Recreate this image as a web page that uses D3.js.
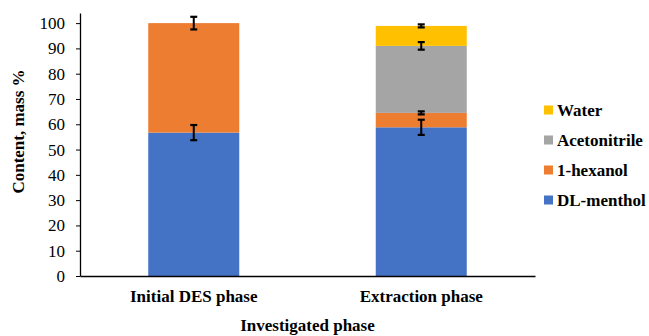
<!DOCTYPE html>
<html>
<head>
<meta charset="utf-8">
<script src="https://cdn.jsdelivr.net/npm/d3@7"></script>
<style>
  body { margin: 0; background: #fff; }
</style>
</head>
<body>
<svg id="chart"></svg>
<script>
const categories = ["Initial DES phase", "Extraction phase"];
const components = ["DL-menthol", "1-hexanol", "Acetonitrile", "Water"];
const colors = ["#4472C4", "#ED7D31", "#A5A5A5", "#FFC000"];
// mass % per component, per phase
const menthol = [56.7, 58.8];
const hexanol = [43.3, 5.7];
const acetonitrile = [0, 26.5];
const water = [0, 7.9];
// error bar half-widths at the top of each segment
const mentholErr = [3.0, 3.0];
const hexanolErr = [2.5, 0.6];
const acetonitrileErr = [0, 1.5];
const waterErr = [0, 0.6];
const yTicks = [0, 10, 20, 30, 40, 50, 60, 70, 80, 90, 100];

const FONT = '"Liberation Serif", serif';
const FS = "17px";
const size = { width: 649, height: 336 };
const margin = { top: 13, right: 114, bottom: 60, left: 80 };

const series = [menthol, hexanol, acetonitrile, water];
const errs = [mentholErr, hexanolErr, acetonitrileErr, waterErr];

const table = categories.map((c, i) => {
  const row = { phase: c };
  components.forEach((k, j) => (row[k] = series[j][i]));
  return row;
});
const stacked = d3.stack().keys(components)(table);

const svg = d3
  .select("#chart")
  .attr("width", size.width)
  .attr("height", size.height);

const x = d3
  .scaleBand()
  .domain(categories)
  .range([margin.left, size.width - margin.right])
  .paddingInner(0.6)
  .paddingOuter(0.3);

const y = d3
  .scaleLinear()
  .domain([0, 104])
  .range([size.height - margin.bottom, margin.top]);

// bars
svg
  .append("g")
  .selectAll("g")
  .data(stacked)
  .join("g")
  .attr("fill", (d, i) => colors[i])
  .selectAll("rect")
  .data((d) => d.filter((s) => s[1] - s[0] > 0))
  .join("rect")
  .attr("x", (d) => x(d.data.phase))
  .attr("width", x.bandwidth())
  .attr("y", (d) => y(d[1]))
  .attr("height", (d) => y(d[0]) - y(d[1]));

// error bars
const errData = [];
stacked.forEach((layer, j) => {
  layer.forEach((s, i) => {
    if (s[1] - s[0] > 0) errData.push({ phase: categories[i], v: s[1], e: errs[j][i] });
  });
});
const eg = svg.append("g").attr("stroke", "#000");
errData.forEach((d) => {
  const cx = x(d.phase) + x.bandwidth() / 2;
  eg.append("line")
    .attr("x1", cx).attr("x2", cx)
    .attr("y1", y(d.v - d.e)).attr("y2", y(d.v + d.e))
    .attr("stroke-width", 2);
  [d.v - d.e, d.v + d.e].forEach((v) => {
    eg.append("line")
      .attr("x1", cx - 3.5).attr("x2", cx + 3.5)
      .attr("y1", y(v)).attr("y2", y(v))
      .attr("stroke-width", 2.2);
  });
});

// y axis
svg
  .append("g")
  .attr("transform", `translate(${margin.left},0)`)
  .call(d3.axisLeft(y).tickValues(yTicks).tickSize(4).tickSizeOuter(0).tickPadding(11))
  .call((g) => g.select(".domain").attr("stroke", "#000").attr("stroke-width", 1.3))
  .call((g) => g.selectAll(".tick line").attr("stroke", "#000"))
  .call((g) =>
    g.selectAll(".tick text").style("font-family", FONT).style("font-size", FS).attr("fill", "#000")
  );

// x axis
svg
  .append("g")
  .attr("transform", `translate(0,${y(0)})`)
  .call(d3.axisBottom(x).tickSize(0).tickSizeOuter(0).tickPadding(14))
  .call((g) => g.select(".domain").attr("stroke", "#000").attr("stroke-width", 1.6))
  .call((g) =>
    g
      .selectAll(".tick text")
      .style("font-family", FONT)
      .style("font-size", FS)
      .style("font-weight", "bold")
      .attr("fill", "#000")
  );

// axis titles
svg
  .append("text")
  .attr("transform", `translate(24,${(y(0) + y(104)) / 2 - 13}) rotate(-90)`)
  .attr("text-anchor", "middle")
  .style("font-family", FONT)
  .style("font-size", FS)
  .style("font-weight", "bold")
  .text("Content, mass %");

svg
  .append("text")
  .attr("x", (margin.left + size.width - margin.right) / 2)
  .attr("y", 331)
  .attr("text-anchor", "middle")
  .style("font-family", FONT)
  .style("font-size", FS)
  .style("font-weight", "bold")
  .text("Investigated phase");

// legend
const legend = svg
  .append("g")
  .selectAll("g")
  .data(components.slice().reverse())
  .join("g")
  .attr("transform", (d, i) => `translate(544,${110 + i * 30})`);
legend
  .append("rect")
  .attr("y", -4.5)
  .attr("width", 9)
  .attr("height", 9)
  .attr("fill", (d) => colors[components.indexOf(d)]);
legend
  .append("text")
  .attr("x", 13)
  .attr("dy", "0.35em")
  .style("font-family", FONT)
  .style("font-size", FS)
  .style("font-weight", "bold")
  .text((d) => d);
</script>
</body>
</html>
